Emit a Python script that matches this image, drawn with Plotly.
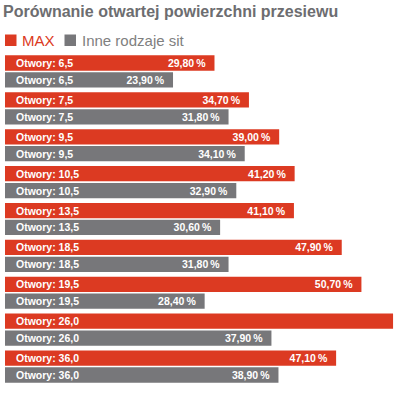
import plotly.graph_objects as go

categories = ["6,5", "7,5", "9,5", "10,5", "13,5", "18,5", "19,5", "26,0", "36,0"]
max_values = [29.8, 34.7, 39.0, 41.2, 41.1, 47.9, 50.7, 55.2, 47.1]
other_values = [23.9, 31.8, 34.1, 32.9, 30.6, 31.8, 28.4, 37.9, 38.9]
max_label_shown = [True, True, True, True, True, True, True, False, True]
series_names = ["MAX", "Inne rodzaje sit"]
prefix = "Otwory: "

RED = "#dc3a22"
GRAY = "#77777a"
W, H = 400, 394
ML, MR, MT, MB = 5, 6, 53, 9

def fmt(v):
    return f"{v:.2f}".replace(".", ",") + "\u2009%\u00a0\u00a0"

max_text = [fmt(v) if s else "" for v, s in zip(max_values, max_label_shown)]
other_text = [fmt(v) for v in other_values]

fig = go.Figure()
fig.add_bar(y=categories, x=max_values, orientation="h", name=series_names[0],
            marker=dict(color=RED, line=dict(width=0)), text=max_text,
            textposition="inside", insidetextanchor="end", constraintext="none",
            textfont=dict(color="white", size=10.5, family="Liberation Sans, Arial, sans-serif", weight="bold"),
            hoverinfo="skip")
fig.add_bar(y=categories, x=other_values, orientation="h", name=series_names[1],
            marker=dict(color=GRAY, line=dict(width=0)), text=other_text,
            textposition="inside", insidetextanchor="end", constraintext="none",
            textfont=dict(color="white", size=10.5, family="Liberation Sans, Arial, sans-serif", weight="bold"),
            hoverinfo="skip")

annotations = []
for c in categories:
    for shift in (8.45, -8.45):
        annotations.append(dict(x=0, y=c, xref="x", yref="y", text=f"<b>{prefix}{c}</b>",
                                showarrow=False, xanchor="left", yanchor="middle",
                                xshift=9, yshift=shift,
                                font=dict(color="white", size=10.5, family="Liberation Sans, Arial, sans-serif")))

# legend drawn manually
plot_w = W - ML - MR
plot_h = H - MT - MB
def px_x(p):
    return (p - ML) / plot_w
def px_y(p):
    return 1 - (p - MT) / plot_h

shapes = [
    dict(type="rect", xref="paper", yref="paper", x0=px_x(5), x1=px_x(16.5), y0=px_y(46), y1=px_y(34.5),
         fillcolor=RED, line=dict(width=0)),
    dict(type="rect", xref="paper", yref="paper", x0=px_x(64.5), x1=px_x(76), y0=px_y(46), y1=px_y(34.5),
         fillcolor=GRAY, line=dict(width=0)),
]
annotations.append(dict(xref="paper", yref="paper", x=px_x(20), y=px_y(40.5), text=series_names[0],
                        showarrow=False, xanchor="left", yanchor="middle",
                        font=dict(color=RED, size=15, family="Liberation Sans, Arial, sans-serif")))
annotations.append(dict(xref="paper", yref="paper", x=px_x(79.5), y=px_y(40.5), text=series_names[1],
                        showarrow=False, xanchor="left", yanchor="middle",
                        font=dict(color="#808080", size=15, family="Liberation Sans, Arial, sans-serif")))

fig.update_layout(
    width=W, height=H,
    margin=dict(l=ML, r=MR, t=MT, b=MB, pad=0),
    paper_bgcolor="white", plot_bgcolor="white",
    barmode="group", bargap=0.084, bargroupgap=0.095,
    showlegend=False,
    separators=", ",
    title=dict(text="<b>Porównanie otwartej powierzchni przesiewu</b>", x=0, xref="paper", xanchor="left",
               y=1 - 11 / H, yanchor="middle", pad=dict(l=-2),
               font=dict(color="#6d6d70", size=16, family="Liberation Sans, Arial, sans-serif")),
    xaxis=dict(range=[0, plot_w / 7.03], visible=False, fixedrange=True),
    yaxis=dict(autorange="reversed", visible=False, fixedrange=True),
    annotations=annotations,
    shapes=shapes,
)

fig.write_html("out.html", config={"displayModeBar": False},
               post_script="document.body.style.margin='0';document.body.style.overflow='hidden';")
